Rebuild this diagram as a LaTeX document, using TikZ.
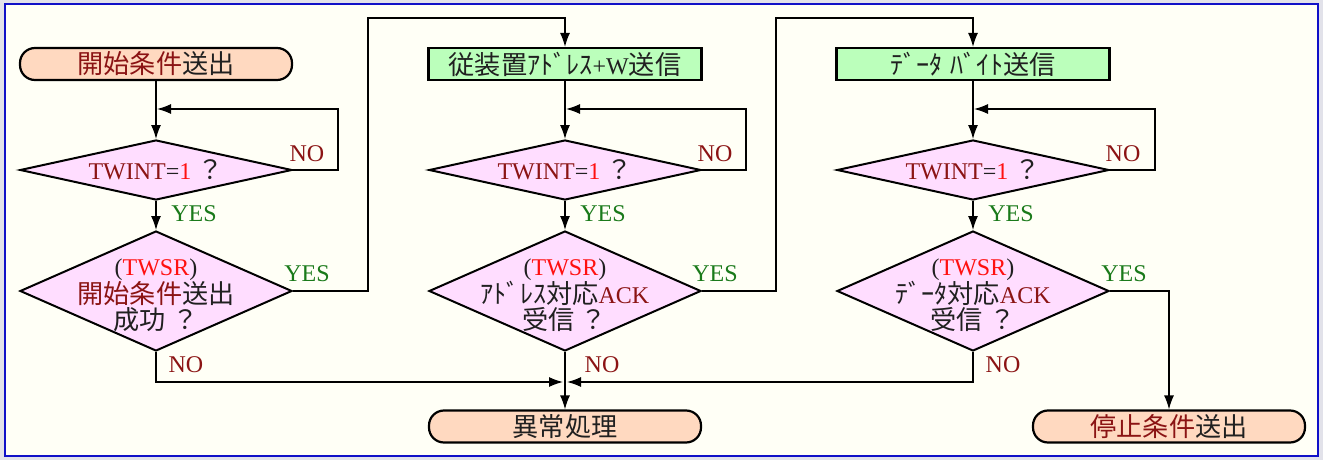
\documentclass[tikz,border=0pt]{standalone}
\usepackage{fontspec}
\setmainfont{Liberation Serif}
\newfontfamily\jp{Noto Sans CJK JP}[Scale=1.09]
\usetikzlibrary{arrows.meta,shapes.geometric}
\definecolor{bgc}{HTML}{FFFFF6}
\definecolor{outc}{HTML}{E2E2EA}
\definecolor{framec}{HTML}{1010C8}
\definecolor{termc}{HTML}{FFD9C0}
\definecolor{diac}{HTML}{FFDDFF}
\definecolor{boxc}{HTML}{BBFFBB}
\definecolor{dr}{HTML}{8B1414}
\definecolor{rd}{HTML}{FF1010}
\definecolor{gr}{HTML}{1A7A1A}
\definecolor{tx}{HTML}{202020}
\newcommand{\J}[1]{{\jp #1}}
\tikzset{
  terminal/.style={draw=black, line width=2.2pt, fill=termc, rounded corners=15pt,
    minimum width=272pt, minimum height=32pt, inner sep=0pt, text=tx,
    font=\fontsize{24}{27}\selectfont},
  procbox/.style={draw=black, line width=2.2pt, fill=boxc,
    minimum width=273pt, minimum height=32pt, inner sep=0pt, text=tx,
    font=\fontsize{24}{27}\selectfont},
  decision/.style={draw=black, line width=2pt, fill=diac, diamond, inner sep=0pt,
    minimum width=272pt},
  txt/.style={align=center, text=tx, inner sep=0pt, font=\fontsize{24}{26}\selectfont},
  conn/.style={draw=black, line width=1.3pt},
  arr/.style={conn, -{Latex[length=14pt,width=10pt]}},
  yes/.style={text=gr, inner sep=0pt, font=\fontsize{24}{26}\selectfont},
  no/.style={text=dr, inner sep=0pt, font=\fontsize{24}{26}\selectfont}
}
\begin{document}
\begin{tikzpicture}[x=1pt,y=-1pt]
\fill[outc] (0,0) rectangle (1323,460);
\useasboundingbox (0,0) rectangle (1323,460);
\draw[framec, line width=2.2pt, fill=bgc] (5,4) rectangle (1318,456);

% column 1
\node[terminal] (s1) at (156,64) {\J{\textcolor{dr}{開始条件}送出}};
\node[decision, minimum height=60pt] (d1) at (156,170) {};
\node[txt] (t1) at (156,170) {\textcolor{dr}{TWINT}=\textcolor{rd}{1} \J{？}};
\node[decision, minimum height=120pt] (d2) at (156,291) {};
\node[txt] (t2) at (156,295) {(\textcolor{rd}{TWSR})\\\J{\textcolor{dr}{開始条件}送出}\\\J{成功 ？}};

% column 2
\node[procbox] (b2) at (565,64) {\J{従装置ｱﾄﾞﾚｽ}+W\J{送信}};
\node[decision, minimum height=60pt] (d3) at (565,170) {};
\node[txt] (t3) at (565,170) {\textcolor{dr}{TWINT}=\textcolor{rd}{1} \J{？}};
\node[decision, minimum height=120pt] (d4) at (565,291) {};
\node[txt] (t4) at (565,295) {(\textcolor{rd}{TWSR})\\\J{ｱﾄﾞﾚｽ対応}\textcolor{dr}{ACK}\\\J{受信 ？}};
\node[terminal] (e1) at (565,426.5) {\J{異常処理}};

% column 3
\node[procbox] (b3) at (973,64) {\J{ﾃﾞｰﾀ}\hspace{8pt}\J{ﾊﾞｲﾄ送信}};
\node[decision, minimum height=60pt] (d5) at (973,170) {};
\node[txt] (t5) at (973,170) {\textcolor{dr}{TWINT}=\textcolor{rd}{1} \J{？}};
\node[decision, minimum height=120pt] (d6) at (973,291) {};
\node[txt] (t6) at (973,295) {(\textcolor{rd}{TWSR})\\\J{ﾃﾞｰﾀ対応}\textcolor{dr}{ACK}\\\J{受信 ？}};
\node[terminal] (e2) at (1169,426.5) {\J{\textcolor{dr}{停止条件}送出}};

% helper coordinates
\coordinate (l1) at (338,109);
\coordinate (m1) at (157,109);
\coordinate (l3) at (746,109);
\coordinate (m3) at (566,109);
\coordinate (l5) at (1155,109);
\coordinate (m5) at (974,109);
\coordinate (u1) at (368,18);
\coordinate (u2) at (776,18);
\coordinate (j1) at (563,382);
\coordinate (j2) at (567,382);

% connectors
\draw[arr] (s1.south) -- (d1.north);
\draw[arr] (d1.east) -| (l1) -- (m1);
\draw[arr] (d1.south) -- (d2.north);
\draw[arr] (d2.east) -| (u1) -| (b2.north);
\draw[arr] (d2.south) |- (j1);

\draw[arr] (b2.south) -- (d3.north);
\draw[arr] (d3.east) -| (l3) -- (m3);
\draw[arr] (d3.south) -- (d4.north);
\draw[arr] (d4.east) -| (u2) -| (b3.north);
\draw[arr] (d4.south) -- (e1.north);

\draw[arr] (b3.south) -- (d5.north);
\draw[arr] (d5.east) -| (l5) -- (m5);
\draw[arr] (d5.south) -- (d6.north);
\draw[arr] (d6.east) -| (e2.north);
\draw[arr] (d6.south) |- (j2);

% labels
\node[no] (n1) at (307,154) {NO};
\node[yes] (y1) at (194,214) {YES};
\node[yes] (y2) at (307,274) {YES};
\node[no] (n2) at (186,365) {NO};
\node[no] (n3) at (715,154) {NO};
\node[yes] (y3) at (603,214) {YES};
\node[yes] (y4) at (715,274) {YES};
\node[no] (n4) at (602,365) {NO};
\node[no] (n5) at (1123,154) {NO};
\node[yes] (y5) at (1011,214) {YES};
\node[yes] (y6) at (1124,274) {YES};
\node[no] (n6) at (1003,365) {NO};
\end{tikzpicture}
\end{document}
